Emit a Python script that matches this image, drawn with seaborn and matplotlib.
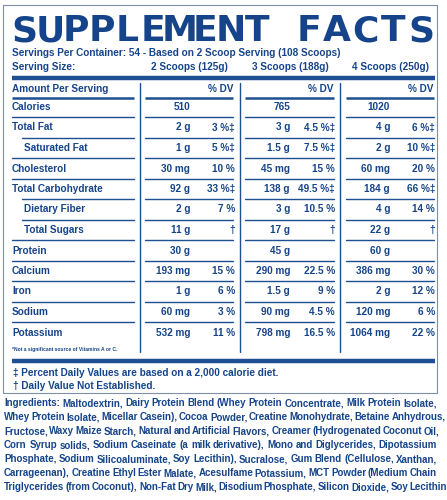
import matplotlib
matplotlib.use("Agg")
import matplotlib.pyplot as plt
import numpy as np
import seaborn as sns

sns.set_theme(style="white")
plt.rcParams['font.family'] = ['Liberation Sans', 'DejaVu Sans']

BLUE = '#16448a'
LINE = '#1d4f92'
FS = 7.2

serving_sizes = ['2 Scoops (125g)', '3 Scoops (188g)', '4 Scoops (250g)']
nutrients = ['Calories', 'Total Fat', 'Saturated Fat', 'Cholesterol', 'Total Carbohydrate',
             'Dietary Fiber', 'Total Sugars', 'Protein', 'Calcium', 'Iron', 'Sodium', 'Potassium']
indented = [False, False, True, False, False, True, True, False, False, False, False, False]
amt_2 = ['510', '2 g', '1 g', '30 mg', '92 g', '2 g', '11 g', '30 g', '193 mg', '1 g', '60 mg', '532 mg']
dv_2 = ['', '3 %‡', '5 %‡', '10 %', '33 %‡', '7 %', '†', '', '15 %', '6 %', '3 %', '11 %']
amt_3 = ['765', '3 g', '1.5 g', '45 mg', '138 g', '3 g', '17 g', '45 g', '290 mg', '1.5 g', '90 mg', '798 mg']
dv_3 = ['', '4.5 %‡', '7.5 %‡', '15 %', '49.5 %‡', '10.5 %', '†', '', '22.5 %', '9 %', '4.5 %', '16.5 %']
amt_4 = ['1020', '4 g', '2 g', '60 mg', '184 g', '4 g', '22 g', '60 g', '386 mg', '2 g', '120 mg', '1064 mg']
dv_4 = ['', '6 %‡', '10 %‡', '20 %', '66 %‡', '14 %', '†', '', '30 %', '12 %', '6 %', '22 %']

ingredient_lines = [
    "Ingredients: Maltodextrin, Dairy Protein Blend (Whey Protein Concentrate, Milk Protein Isolate,",
    "Whey Protein Isolate, Micellar Casein), Cocoa Powder, Creatine Monohydrate, Betaine Anhydrous,",
    "Fructose, Waxy Maize Starch, Natural and Artificial Flavors, Creamer (Hydrogenated Coconut Oil,",
    "Corn Syrup solids, Sodium Caseinate (a milk derivative), Mono and Diglycerides, Dipotassium",
    "Phosphate, Sodium Silicoaluminate, Soy Lecithin), Sucralose, Gum Blend (Cellulose, Xanthan,",
    "Carrageenan), Creatine Ethyl Ester Malate, Acesulfame Potassium, MCT Powder (Medium Chain",
    "Triglycerides (from Coconut), Non-Fat Dry Milk, Disodium Phosphate, Silicon Dioxide, Soy Lecithin.",
]

fig = plt.figure(figsize=(4.47, 5.0), dpi=100)
ax = fig.add_axes([0, 0, 1, 1])
ax.set_xlim(0, 447)
ax.set_ylim(500, 0)
ax.axis('off')

# outer box
ax.plot([3, 437, 437, 3, 3], [5, 5, 393, 393, 5], color='#7f8fa8', lw=0.8)

# title, letter spaced
for xs, word in [(np.linspace(24, 257, 10), 'SUPPLEMENT'), (np.linspace(309, 421, 5), 'FACTS')]:
    for x, ch in zip(xs, word):
        ax.text(x, 31, ch, fontsize=26, fontweight='heavy', color=BLUE, ha='center', va='center',
                family='DejaVu Sans')

kw = dict(color=BLUE, fontweight='bold', va='center')
ax.text(12, 53, 'Servings Per Container: 54 - Based on 2 Scoop Serving (108 Scoops)', fontsize=FS, **kw)
ax.text(12, 67, 'Serving Size:', fontsize=FS, **kw)
for x, s in zip([189, 290, 391], serving_sizes):
    ax.text(x, 67, s, fontsize=FS, ha='center', color=BLUE, fontweight='bold', va='center')

ax.plot([12, 435], [78, 78], color=LINE, lw=3.2, solid_capstyle='butt')

# column dividers
for x in [140, 240, 340]:
    ax.plot([x, x], [83, 352], color=LINE, lw=1.0)

segs = [(12, 134), (145, 233), (245, 334), (346, 434)]
ax.text(12, 89, 'Amount Per Serving', fontsize=FS, **kw)
for xr in [233, 333, 433]:
    ax.text(xr, 89, '% DV', fontsize=FS, ha='right', color=BLUE, fontweight='bold', va='center')
for a, b in segs:
    ax.plot([a, b], [98, 98], color=LINE, lw=1.8, solid_capstyle='butt')

ys = 107 + 20.5 * np.arange(len(nutrients))
cols = [(amt_2, dv_2, 190, 235), (amt_3, dv_3, 290, 335), (amt_4, dv_4, 390, 435)]
for i, name in enumerate(nutrients):
    y = ys[i]
    ax.text(24 if indented[i] else 12, y, name, fontsize=FS, **kw)
    for amts, dvs, xa, xd in cols:
        ax.text(xa, y, amts[i], fontsize=FS, ha='right', **kw)
        ax.text(xd, y, dvs[i], fontsize=FS, ha='right', **kw)
    if i < len(nutrients) - 1:
        yl = y + 10.2
        nxt = indented[i + 1]
        for k, (a, b) in enumerate(segs):
            ax.plot([22 if (k == 0 and nxt) else a, b], [yl, yl], color=LINE, lw=1.0)

ax.text(12, 350, '*Not a significant source of Vitamins A or C.', fontsize=3.6, **kw)
ax.plot([12, 435], [361, 361], color=LINE, lw=3.2, solid_capstyle='butt')
ax.text(13, 373, '‡ Percent Daily Values are based on a 2,000 calorie diet.', fontsize=FS, **kw)
ax.text(13, 386, '† Daily Value Not Established.', fontsize=FS, **kw)

# justified ingredient lines
fig.canvas.draw()
renderer = fig.canvas.get_renderer()
inv = ax.transData.inverted()
left, right = 4, 437
for j, line in enumerate(ingredient_lines):
    y = 403 + 14 * j
    words = line.split()
    texts = []
    for w in words:
        t = ax.text(0, y, w, fontsize=7.0, color=BLUE, fontweight='bold', va='center', ha='left')
        texts.append(t)
    widths = []
    for t in texts:
        bb = t.get_window_extent(renderer)
        widths.append(inv.transform((bb.x1, bb.y0))[0] - inv.transform((bb.x0, bb.y0))[0])
    gap = max((right - left - sum(widths)) / max(len(words) - 1, 1), 1.5)
    x = left
    for t, wdt in zip(texts, widths):
        t.set_x(x)
        x += wdt + gap

fig.savefig('out.png', dpi=100, facecolor='white')
